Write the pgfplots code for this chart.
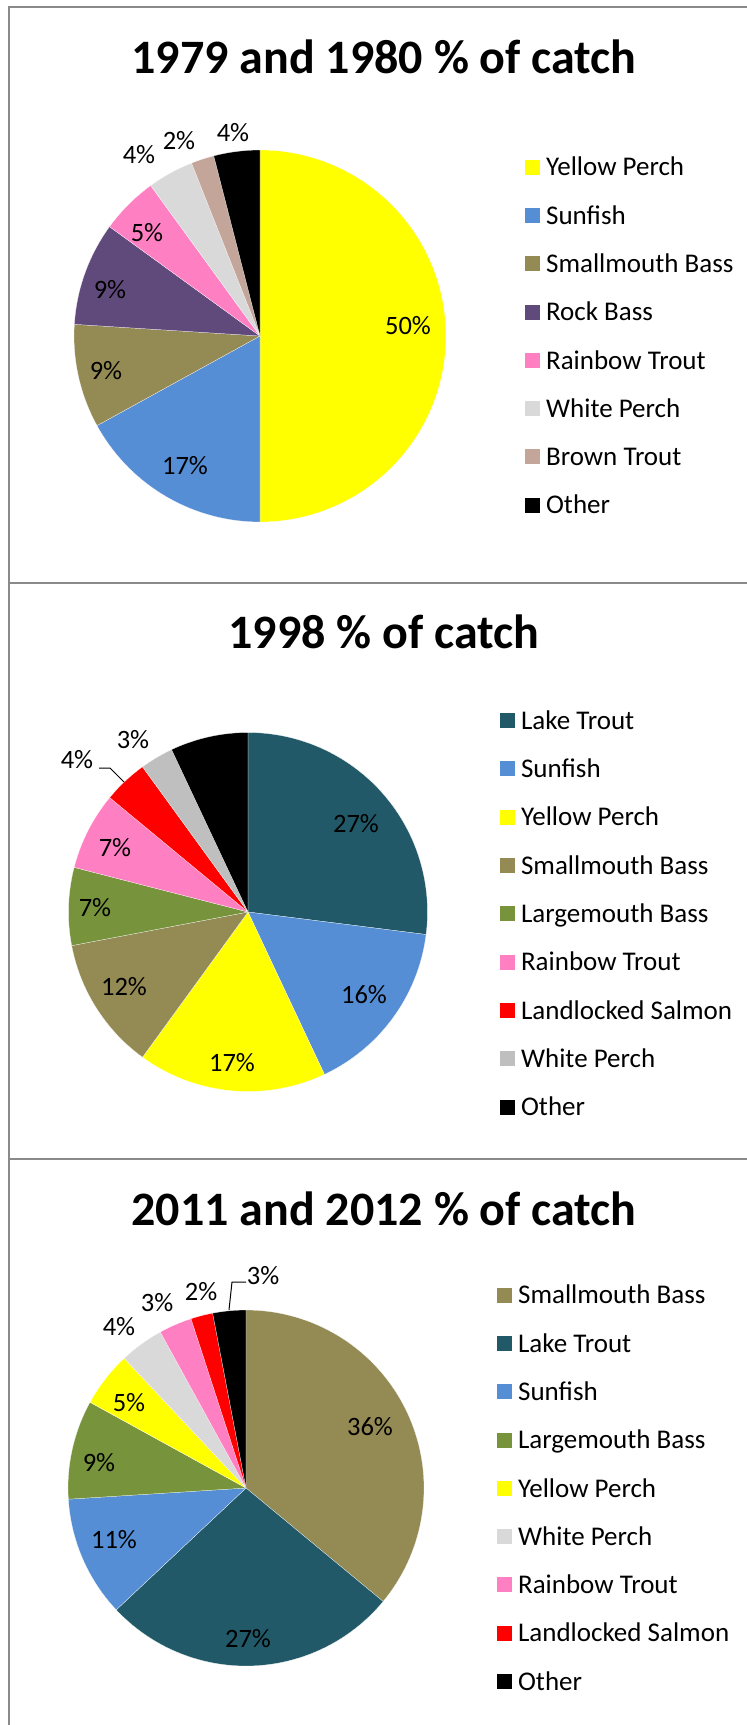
\documentclass[border=0pt]{standalone}
\usepackage{fontspec}
\setmainfont{Carlito}
\usepackage{pgfplots}
\usepackage{pgfplotstable}
\pgfplotsset{compat=1.18}

\definecolor{cYP}{HTML}{FFFF00}
\definecolor{cSun}{HTML}{558ED5}
\definecolor{cSMB}{HTML}{948A54}
\definecolor{cRB}{HTML}{604A7B}
\definecolor{cRT}{HTML}{FF7FC3}
\definecolor{cWPa}{HTML}{D9D9D9}
\definecolor{cWPb}{HTML}{BFBFBF}
\definecolor{cBT}{HTML}{C3A699}
\definecolor{cLT}{HTML}{215968}
\definecolor{cLMB}{HTML}{77933C}
\definecolor{cLS}{HTML}{FF0000}
\definecolor{cOth}{HTML}{000000}
\definecolor{frame}{HTML}{8A8A8A}

\pgfplotstableread[col sep=comma]{
name,pct,col
Yellow Perch,50,cYP
Sunfish,17,cSun
Smallmouth Bass,9,cSMB
Rock Bass,9,cRB
Rainbow Trout,5,cRT
White Perch,4,cWPa
Brown Trout,2,cBT
Other,4,cOth
}\tabA

\pgfplotstableread[col sep=comma]{
name,pct,col
Lake Trout,27,cLT
Sunfish,16,cSun
Yellow Perch,17,cYP
Smallmouth Bass,12,cSMB
Largemouth Bass,7,cLMB
Rainbow Trout,7,cRT
Landlocked Salmon,4,cLS
White Perch,3,cWPb
Other,7,cOth
}\tabB

\pgfplotstableread[col sep=comma]{
name,pct,col
Smallmouth Bass,36,cSMB
Lake Trout,27,cLT
Sunfish,11,cSun
Largemouth Bass,9,cLMB
Yellow Perch,5,cYP
White Perch,4,cWPa
Rainbow Trout,3,cRT
Landlocked Salmon,2,cLS
Other,3,cOth
}\tabC

\newcommand\titlefont{\fontsize{48}{58}\selectfont\bfseries}
\newcommand\lblfont{\fontsize{26.5}{31}\selectfont}
\newcommand\legfont{\fontsize{27}{32}\selectfont}

\newcommand\drawpie[2]{%
  \pgfplotstablegetrowsof{#1}%
  \pgfmathtruncatemacro\pieLast{\pgfplotsretval-1}%
  \gdef\pieCum{0}%
  \pgfplotsinvokeforeach{0,...,\pieLast}{%
    \pgfplotstablegetelem{##1}{pct}\of{#1}\let\piePct\pgfplotsretval
    \pgfplotstablegetelem{##1}{col}\of{#1}\let\pieCol\pgfplotsretval
    \pgfplotstablegetelem{##1}{name}\of{#1}\let\pieName\pgfplotsretval
    \pgfmathsetmacro\pieA{90-3.6*\pieCum}%
    \pgfmathsetmacro\pieB{90-3.6*(\pieCum+\piePct)}%
    \pgfmathsetmacro\pieNext{\pieCum+\piePct}%
    \xdef\pieCum{\pieNext}%
    \pgfmathtruncatemacro\pieN{max(6,2*\piePct)}%
    \edef\pieCmd{\noexpand\addplot[fill=\pieCol, draw=white, line width=0.2pt, domain=\pieB:\pieA, samples=\pieN] ({#2*cos(x)},{#2*sin(x)}) -- (axis cs:0,0) -- cycle;
      \noexpand\addlegendentry{\pieName}}%
    \pieCmd
  }%
}

\pgfplotsset{
  piestyle/.style={
    hide axis, clip=false, scale only axis,
    width=#1*2pt, height=#1*2pt,
    xmin=-#1, xmax=#1, ymin=-#1, ymax=#1,
    anchor=origin,
    legend cell align=left,
    legend image code/.code={\fill[##1,draw=none] (0pt,-7.5pt) rectangle (15pt,7.5pt); \path (21pt,0pt);},
    legend style={draw=none, fill=none, anchor=north west, inner sep=0pt, outer sep=0pt,
      font=\legfont, row sep=0pt,
      nodes={inner sep=0pt, outer sep=0pt, text height=32.85pt, text depth=15.45pt}},
  }
}

\begin{document}
\begin{tikzpicture}[x=1pt,y=1pt]
\path[use as bounding box] (0,0) rectangle (747,-1725);
% frames
\draw[frame, line width=2pt] (9,-1725) -- (9,-7) -- (747,-7);
\draw[frame, line width=2pt] (9,-583) -- (747,-583);
\draw[frame, line width=2pt] (9,-1158.5) -- (747,-1158.5);
% titles
\node[font=\titlefont, anchor=base, inner sep=0pt] at (384,-73) {1979 and 1980 \% of catch};
\node[font=\titlefont, anchor=base, inner sep=0pt] at (384,-648) {1998 \% of catch};
\node[font=\titlefont, anchor=base, inner sep=0pt] at (384,-1225) {2011 and 2012 \% of catch};

% pie 1
\begin{axis}[piestyle=186, at={(260,-336)},
  legend style={at={(axis description cs:1.2124,1.0188)}}]
\drawpie{\tabA}{186}
\node[font=\lblfont] at (axis cs:148,10) {50\%};
\node[font=\lblfont] at (axis cs:-75,-130) {17\%};
\node[font=\lblfont] at (axis cs:-154,-35) {9\%};
\node[font=\lblfont] at (axis cs:-150,46) {9\%};
\node[font=\lblfont] at (axis cs:-113,103) {5\%};
\node[font=\lblfont] at (axis cs:-121,181) {4\%};
\node[font=\lblfont] at (axis cs:-81,195) {2\%};
\node[font=\lblfont] at (axis cs:-27,203) {4\%};
\end{axis}

% pie 2
\begin{axis}[piestyle=179.5, at={(248,-912)},
  legend style={at={(axis description cs:1.2019,1.1003)}}]
\drawpie{\tabB}{179.5}
\node[font=\lblfont] at (axis cs:108,88) {27\%};
\node[font=\lblfont] at (axis cs:116,-83) {16\%};
\node[font=\lblfont] at (axis cs:-16,-151) {17\%};
\node[font=\lblfont] at (axis cs:-124,-75) {12\%};
\node[font=\lblfont] at (axis cs:-153,4) {7\%};
\node[font=\lblfont] at (axis cs:-133,64) {7\%};
\node[font=\lblfont] at (axis cs:-171,152) {4\%};
\node[font=\lblfont] at (axis cs:-115,172) {3\%};
\draw[black, line width=1pt] (axis cs:-149,144) -- (axis cs:-138,144) -- (axis cs:-124,130);
\end{axis}

% pie 3
\begin{axis}[piestyle=178, at={(246,-1488)},
  legend style={at={(axis description cs:1.2051,1.1096)}}]
\drawpie{\tabC}{178}
\node[font=\lblfont] at (axis cs:124,61) {36\%};
\node[font=\lblfont] at (axis cs:2,-151) {27\%};
\node[font=\lblfont] at (axis cs:-132,-52) {11\%};
\node[font=\lblfont] at (axis cs:-147,25) {9\%};
\node[font=\lblfont] at (axis cs:-117,85) {5\%};
\node[font=\lblfont] at (axis cs:-127,161) {4\%};
\node[font=\lblfont] at (axis cs:-89,185) {3\%};
\node[font=\lblfont] at (axis cs:-45,196) {2\%};
\node[font=\lblfont] at (axis cs:17,212) {3\%};
\draw[black, line width=1pt] (axis cs:0,206) -- (axis cs:-14,206) -- (axis cs:-17,178);
\end{axis}
\end{tikzpicture}
\end{document}
